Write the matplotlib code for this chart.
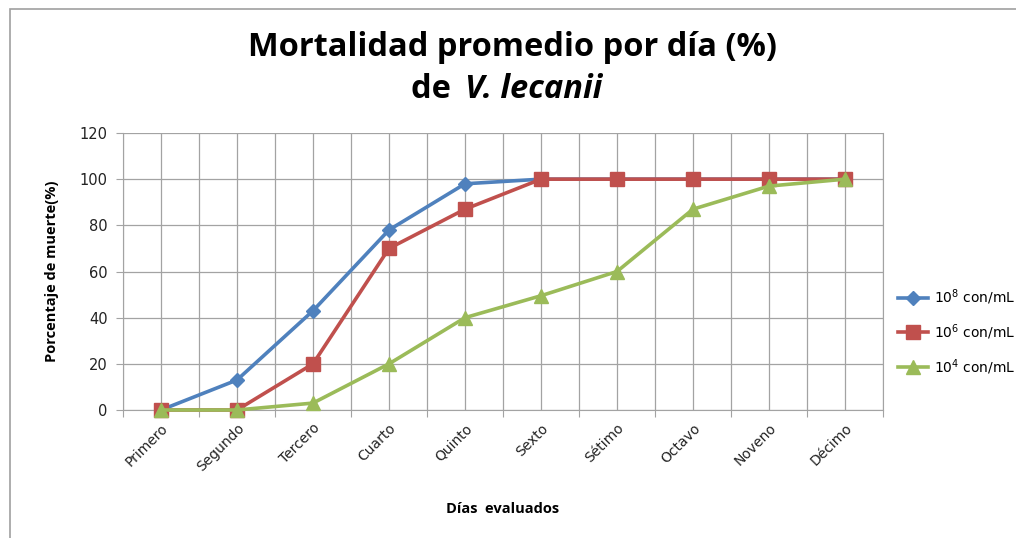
import matplotlib.pyplot as plt
import numpy as np
from matplotlib.patches import Rectangle

# categories and values
dias = ['Primero', 'Segundo', 'Tercero', 'Cuarto', 'Quinto',
        'Sexto', 'Sétimo', 'Octavo', 'Noveno', 'Décimo']
conc_1e8 = [0, 13, 43, 78, 98, 100, 100, 100, 100, 100]
conc_1e6 = [0, 0, 20, 70, 87, 100, 100, 100, 100, 100]
conc_1e4 = [0, 0, 3, 20, 40, 49.5, 60, 87, 97, 100]
series_labels = ['$10^{8}$ con/mL', '$10^{6}$ con/mL', '$10^{4}$ con/mL']
y_ticks = [0, 20, 40, 60, 80, 100, 120]

fig = plt.figure(figsize=(10.16, 5.38), dpi=100)
ax = fig.add_axes([123/1016, 1-410/538, 760/1016, 277/538])

# thin frame around the chart area (Excel style)
fig.patches.append(Rectangle((10/1016, -0.1), 1.2, 1 - 9/538 + 0.1,
                             transform=fig.transFigure, fill=False,
                             edgecolor='#a0a0a0', linewidth=1.2))

x = np.arange(len(dias))
grid_c = '#a3a3a3'

ax.plot(x, conc_1e8, color='#4F81BD', lw=2.6, marker='D', ms=7.5,
        label=series_labels[0], zorder=3, clip_on=False)
ax.plot(x, conc_1e6, color='#C0504D', lw=2.6, marker='s', ms=9.5,
        label=series_labels[1], zorder=4, clip_on=False)
ax.plot(x, conc_1e4, color='#9BBB59', lw=2.6, marker='^', ms=9.5,
        label=series_labels[2], zorder=5, clip_on=False)

ax.set_xlim(-0.5, len(dias) - 0.5)
ax.set_ylim(0, 120)
ax.set_yticks(y_ticks)
ax.set_xticks(np.arange(-0.5, len(dias)), minor=False)
ax.set_xticklabels([])
ax.set_xticks(x, minor=True)
ax.set_xticklabels(dias, minor=True, rotation=45, ha='right',
                   rotation_mode='anchor', fontsize=10, color='#222222')
ax.tick_params(axis='x', which='minor', length=0, pad=8)
ax.tick_params(axis='x', which='major', length=5, color=grid_c)
ax.tick_params(axis='y', length=5, color=grid_c, labelsize=10.5,
               labelcolor='#222222', pad=6)
ax.grid(True, which='both', color=grid_c, lw=0.9, zorder=0)
ax.set_axisbelow(True)

ax.spines['top'].set_visible(False)
for s in ['left', 'bottom', 'right']:
    ax.spines[s].set_color(grid_c)

ax.set_xlabel('Días  evaluados', fontsize=10.5, fontweight='bold',
              family='Open Sans', labelpad=20)
ax.set_ylabel('Porcentaje de muerte(%)', fontsize=10.5, fontweight='bold',
              family='Open Sans', labelpad=15)

fig.text(512/1016, 1-47/538, 'Mortalidad promedio por día (%)',
         ha='center', va='center', fontsize=23.5, fontweight='bold',
         family='Open Sans')
fig.text(459/1016, 1-90/538, 'de ', ha='right', va='center',
         fontsize=23.5, fontweight='bold', family='Open Sans')
fig.text(465/1016, 1-90/538, 'V. lecanii', ha='left', va='center',
         fontsize=23.5, fontweight='bold', style='italic',
         family='Open Sans')

fig.legend(loc='center left', bbox_to_anchor=(885/1016, 1-332/538),
           frameon=False, fontsize=10, handlelength=2.2,
           labelspacing=1.1, handletextpad=0.4)

fig.savefig('out.png', dpi=100)
